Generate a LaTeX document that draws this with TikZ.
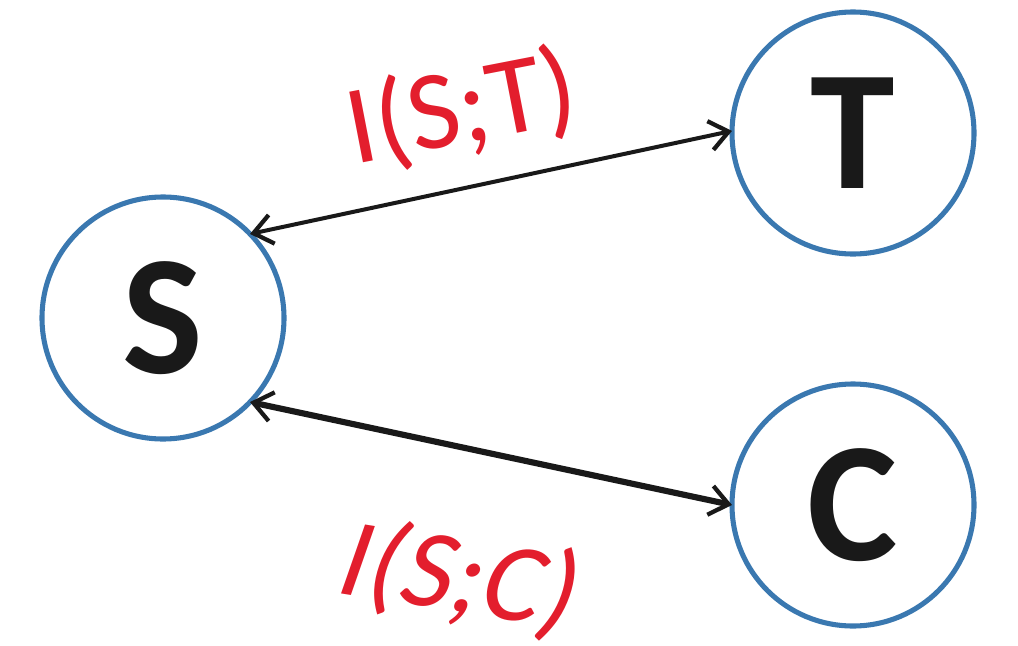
\documentclass[tikz,border=0pt]{standalone}
\usepackage{fontspec}
\setmainfont{Carlito}
\usetikzlibrary{arrows.meta}
\definecolor{ringblue}{HTML}{3A78B0}
\definecolor{labelred}{HTML}{E31E2D}
\newfontfamily\slfont[FakeSlant=0.18]{Carlito}
\tikzset{
  var/.style={circle, draw=ringblue, line width=3.8pt, minimum size=242*0.75pt,
    inner sep=0pt, outer sep=0pt, font=\fontsize{128}{128}\selectfont\bfseries, text=black!90},
  link/.style={black!90, {Straight Barb[length=14pt,width=22pt,line width=3.2pt]}-{Straight Barb[length=14pt,width=22pt,line width=3.2pt]}},
  mi/.style={text=labelred, font=\fontsize{84}{84}\selectfont}
}
\begin{document}
\begin{tikzpicture}[x=0.75pt,y=-0.75pt]
  \useasboundingbox (0,0) rectangle (1018,646);
  \node[var] (S) at (163,318) {S};
  \node[var] (T) at (853,133) {T};
  \node[var] (C) at (853,505) {C};
  \draw[link, line width=3pt] (S.44) -- (T.179);
  \draw[link, line width=4.6pt] (S.-44) -- (C.180);
  \node[mi, rotate=11] (lt) at (462,110) {I(S;T)};
  \node[mi, rotate=-9] (lc) at (455,578) {\slfont I(S;C)};
\end{tikzpicture}
\end{document}
